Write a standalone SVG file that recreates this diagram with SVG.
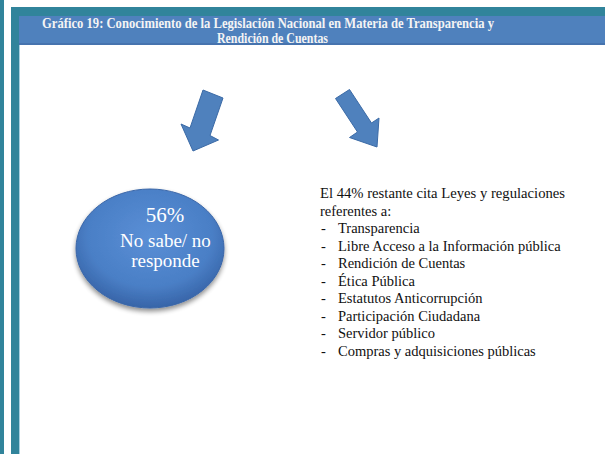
<svg xmlns="http://www.w3.org/2000/svg" width="605" height="454" viewBox="0 0 605 454">
<defs>
<style>
.frame{fill:#31849b}
.ttl{font-family:'Liberation Serif','DejaVu Serif',serif;font-weight:bold;font-size:14px;fill:#f4f4f4;text-anchor:middle}
.big{font-family:'Liberation Serif','DejaVu Serif',serif;font-size:19px;fill:#ffffff;text-anchor:middle}
.pct{font-size:21px}
.lst{font-family:'Liberation Serif','DejaVu Serif',serif;font-size:14.5px;fill:#111111}
.arr{fill:#4f81bd;stroke:#3b6aa6;stroke-width:1;stroke-linejoin:miter}
</style>
<radialGradient id="eg" cx="0.5" cy="0.4" r="0.6">
<stop offset="0" stop-color="#5a8fd6"/>
<stop offset="0.7" stop-color="#4a7fc6"/>
<stop offset="1" stop-color="#3764a8"/>
</radialGradient>
<filter id="sh" x="-20%" y="-20%" width="140%" height="150%">
<feGaussianBlur in="SourceAlpha" stdDeviation="2.5"/>
<feOffset dx="0" dy="3" result="b"/>
<feComponentTransfer><feFuncA type="linear" slope="0.45"/></feComponentTransfer>
<feMerge><feMergeNode/><feMergeNode in="SourceGraphic"/></feMerge>
</filter>
</defs>
<rect width="605" height="454" fill="#ffffff"/>
<g id="frame">
<rect class="frame" x="0" y="0" width="4" height="454"/>
<rect class="frame" x="11" y="7" width="8" height="447"/>
<rect x="19" y="16" width="1" height="438" fill="#a9cfe0"/>
<rect class="frame" x="11" y="7" width="594" height="9"/>
<rect x="19" y="16" width="586" height="29" fill="#4f81bd"/>
<rect x="19" y="43" width="586" height="2" fill="#4673ae"/>
</g>
<g id="title">
<text class="ttl" x="268" y="27.5" textLength="452" lengthAdjust="spacingAndGlyphs">Gráfico 19: Conocimiento de la Legislación Nacional en  Materia de Transparencia y</text>
<text class="ttl" x="272.5" y="43" textLength="111" lengthAdjust="spacingAndGlyphs">Rendición de Cuentas</text>
</g>
<g id="connectors">
<polygon class="arr" points="203,90 223,98 210,135.5 218.5,140 193,151 181,124 190,128"/>
<polygon class="arr" points="335.5,98.5 349.5,89.5 371.5,123 379,118 377,147 349.5,137.5 357.5,132"/>
</g>
<g id="node-no-sabe">
<ellipse cx="150" cy="248.5" rx="74" ry="59.5" fill="url(#eg)" stroke="#3a66a8" stroke-width="1" filter="url(#sh)"/>
<text class="big pct" x="165" y="222">56%</text>
<text class="big" x="165.5" y="246.5">No sabe/ no</text>
<text class="big" x="165.5" y="267">responde</text>
</g>
<g id="node-leyes">
<text class="lst" x="320" y="198" textLength="245" lengthAdjust="spacingAndGlyphs">El 44% restante cita Leyes y regulaciones</text>
<text class="lst" x="320" y="215.5">referentes a:</text>
<g class="lst">
<text x="321" y="233">-</text><text x="338" y="233">Transparencia</text>
<text x="321" y="250.5">-</text><text x="338" y="250.5">Libre Acceso a la Información pública</text>
<text x="321" y="268">-</text><text x="338" y="268">Rendición de Cuentas</text>
<text x="321" y="285.5">-</text><text x="338" y="285.5">Ética Pública</text>
<text x="321" y="303">-</text><text x="338" y="303">Estatutos Anticorrupción</text>
<text x="321" y="320.5">-</text><text x="338" y="320.5">Participación Ciudadana</text>
<text x="321" y="338">-</text><text x="338" y="338">Servidor público</text>
<text x="321" y="355.5">-</text><text x="338" y="355.5">Compras y adquisiciones públicas</text>
</g>
</g>
</svg>
